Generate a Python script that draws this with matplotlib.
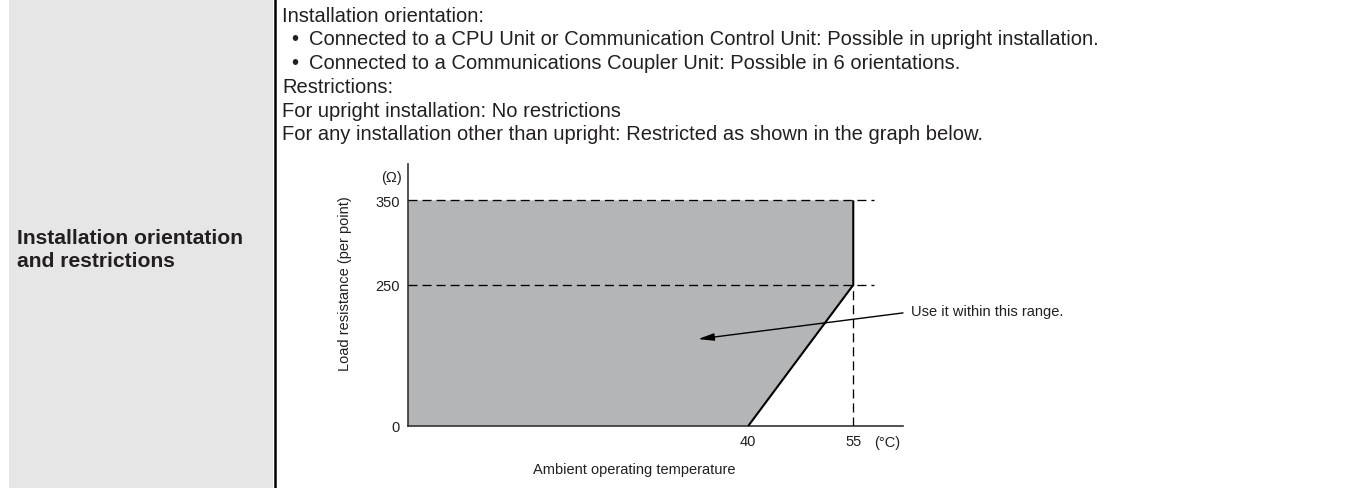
import numpy as np
import matplotlib
matplotlib.use("Agg")
import matplotlib.pyplot as plt
from matplotlib.patches import Rectangle
from matplotlib.lines import Line2D

W, H = 1362, 489

plt.rcParams["font.family"] = ["Liberation Sans", "DejaVu Sans"]
plt.rcParams["lines.scale_dashes"] = False

# table row text
row_title = ["Installation orientation", "and restrictions"]
body_lines = [
    ("", "Installation orientation:"),
    ("\u2022", "Connected to a CPU Unit or Communication Control Unit: Possible in upright installation."),
    ("\u2022", "Connected to a Communications Coupler Unit: Possible in 6 orientations."),
    ("", "Restrictions:"),
    ("", "For upright installation: No restrictions"),
    ("", "For any installation other than upright: Restricted as shown in the graph below."),
]

# derating curve: ambient temperature (deg C) vs load resistance (ohm)
temp_knee = 40
temp_max = 55
res_knee = 250
res_max = 350
y_ticks = [0, 250, 350]
x_ticks = [40, 55]
ylabel = "Load resistance (per point)"
xlabel = "Ambient operating temperature"
note = "Use it within this range."

TXT = "#231f20"
FILL = "#b4b5b7"


def fx(x):
    return x / W


def fy(y):
    return 1 - y / H


fig = plt.figure(figsize=(W / 100, H / 100), dpi=100)
fig.patch.set_facecolor("white")

# left header cell + separator
fig.patches.append(Rectangle((fx(9), 0), fx(273) - fx(9), 1, transform=fig.transFigure,
                             facecolor="#e6e6e6", edgecolor="none", zorder=0))
fig.lines.append(Line2D([fx(274.5), fx(274.5)], [0, 1], transform=fig.transFigure,
                        color="black", lw=1.8))

for i, line in enumerate(row_title):
    fig.text(fx(17), fy(243.7 + i * 23.4), line, fontsize=15.2, fontweight="bold",
             color=TXT, va="baseline", ha="left")

for i, (bullet, line) in enumerate(body_lines):
    yb = fy(21.7 + i * 23.75)
    if bullet:
        fig.text(fx(291), yb, bullet, fontsize=14.5, color=TXT, va="baseline")
        fig.text(fx(309), yb, line, fontsize=14.5, color=TXT, va="baseline")
    else:
        fig.text(fx(282), yb, line, fontsize=14.5, color=TXT, va="baseline")

# schematic (non-linear) axes: piecewise-linear scales
xk = [-1000, 0, 40, 55, 1000]
xp = [-8500, 0, 340, 445, 445 + 945 * 7]
yk = [-1e4, 0, 250, 350, 1e4]
yp = [-5640, 0, 141, 225.5, 225.5 + 9650 * 0.845]


def xfwd(v):
    return np.interp(v, xk, xp)


def xinv(v):
    return np.interp(v, xp, xk)


def yfwd(v):
    return np.interp(v, yk, yp)


def yinv(v):
    return np.interp(v, yp, yk)


ax = fig.add_axes([fx(408), 62 / H, 495 / W, 262 / H])
ax.set_xscale("function", functions=(xfwd, xinv))
ax.set_yscale("function", functions=(yfwd, yinv))
ax.set_xlim(0, 62.1)
ax.set_ylim(0, 393)
ax.patch.set_alpha(0)

xs = [0, temp_knee, temp_max, temp_max, 0]
ys = [0, 0, res_knee, res_max, res_max]
ax.fill(xs, ys, color=FILL, lw=0, zorder=1)

dash = (0, (6.5, 3.6))
over = 2.9
for r in (res_max, res_knee):
    ax.plot([0, temp_max + over], [r, r], color="black", lw=0.95, ls=dash, zorder=3)
ax.plot([temp_max, temp_max], [0, res_knee], color="black", lw=0.95, ls=dash, zorder=3)

ax.plot([temp_knee, temp_max, temp_max], [0, res_knee, res_max],
        color="black", lw=1.5, solid_capstyle="butt", zorder=4)

for side in ("top", "right"):
    ax.spines[side].set_visible(False)
for side in ("left", "bottom"):
    ax.spines[side].set_color("#333333")
    ax.spines[side].set_linewidth(1.2)
    ax.spines[side].set_zorder(2.5)

ax.set_yticks(y_ticks)
ax.set_yticklabels([str(v) for v in y_ticks])
ax.set_xticks(x_ticks)
ax.set_xticklabels([str(v) for v in x_ticks])
ax.minorticks_off()
ax.tick_params(axis="y", which="both", length=0, pad=5.8, labelsize=10.5, labelcolor=TXT)
ax.tick_params(axis="x", which="both", length=0, pad=5.5, labelsize=10.5, labelcolor=TXT)

ax.annotate("(\u03a9)", xy=(0, res_max), xytext=(-12.2, 16.5), textcoords="offset points",
            ha="center", va="center", fontsize=10.5, color=TXT, annotation_clip=False)
ax.annotate("(\u00b0C)", xy=(temp_max, 0), xytext=(24.5, -11.5), textcoords="offset points",
            ha="center", va="center", fontsize=10.5, color=TXT, annotation_clip=False)

ax.text((345 - 408) / 495, (427 - 284) / 262, ylabel, transform=ax.transAxes, rotation=90,
        ha="center", va="center", fontsize=10.5, color=TXT)
ax.text((634 - 408) / 495, (427 - 470) / 262, xlabel, transform=ax.transAxes,
        ha="center", va="center", fontsize=10.5, color=TXT)

ax.annotate("", xy=(34.1, 154), xytext=(62.1, 200.4),
            arrowprops=dict(arrowstyle="-|>,head_length=0.95,head_width=0.22",
                            color="black", lw=1.0, shrinkA=0, shrinkB=0, mutation_scale=10),
            annotation_clip=False, zorder=5)
ax.text(63.3, 203, note, ha="left", va="center", fontsize=10.5, color=TXT, clip_on=False)

fig.savefig("out.png", dpi=100)
